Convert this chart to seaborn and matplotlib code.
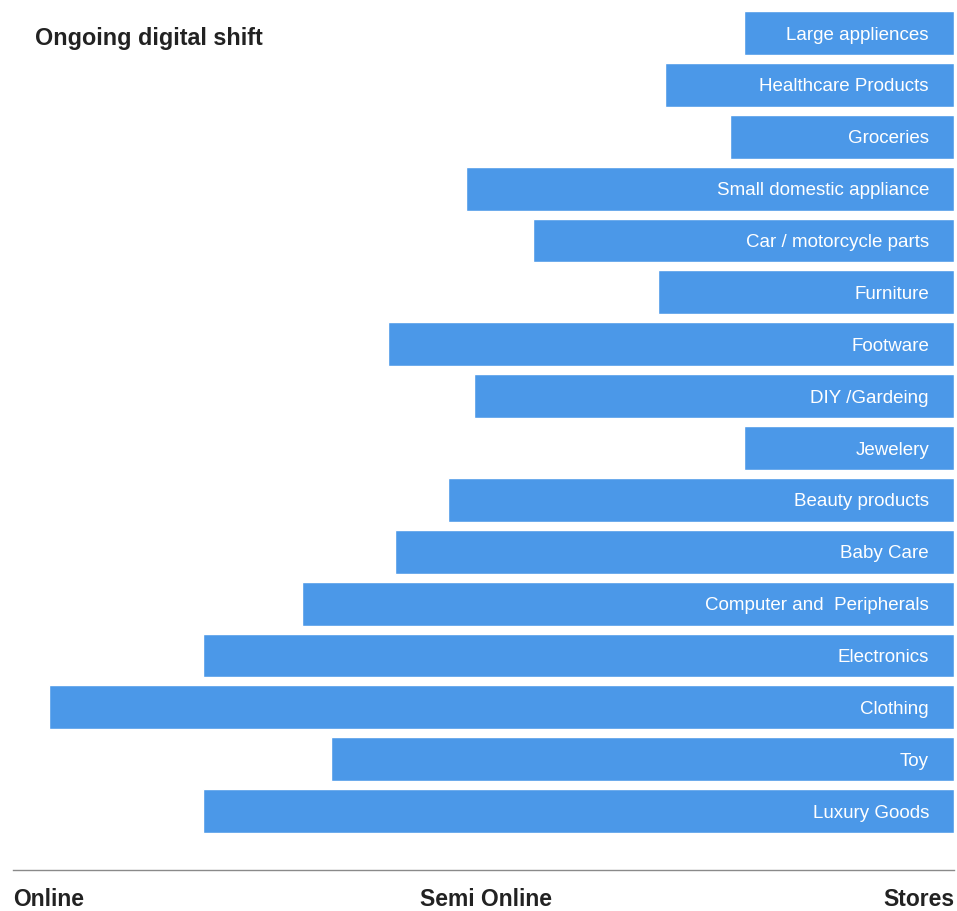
import matplotlib
matplotlib.use("Agg")
import matplotlib.pyplot as plt
import pandas as pd
import seaborn as sns

categories = [
    "Large appliences", "Healthcare Products", "Groceries",
    "Small domestic appliance", "Car / motorcycle parts", "Furniture",
    "Footware", "DIY /Gardeing", "Jewelery", "Beauty products",
    "Baby Care", "Computer and  Peripherals", "Electronics", "Clothing",
    "Toy", "Luxury Goods",
]
# digital extent: 0 = stores only, 100 = fully online
digital_shift = [22.3, 30.7, 23.8, 51.9, 44.7, 31.5, 60.1, 51.0,
                 22.3, 53.8, 59.4, 69.3, 79.8, 96.2, 66.2, 79.8]
axis_labels = ["Online", "Semi Online", "Stores"]

bar_color = "#4b98e8"

sns.set_theme(style="white")
plt.rcParams["font.family"] = ["Liberation Sans", "DejaVu Sans"]

df = pd.DataFrame({"category": categories, "value": digital_shift})

W, H = 957, 911
fig = plt.figure(figsize=(W / 100, H / 100), dpi=100)
ax = fig.add_axes([13 / W, 41 / H, 941 / W, 870 / H])

sns.barplot(data=df, x="value", y="category", orient="h", color=bar_color,
            saturation=1, width=0.846, ax=ax)

ax.set_xlim(100, 0)
ax.set_ylim(len(categories) - 1 + 1.135, -0.635)

for i, cat in enumerate(categories):
    ax.text(2.66, i + 0.04, cat, color="white", ha="right", va="center",
            fontsize=13.5)

for s in ["top", "left", "right"]:
    ax.spines[s].set_visible(False)
ax.spines["bottom"].set_color("#8a8a8a")
ax.spines["bottom"].set_linewidth(1)
ax.set_xticks([])
ax.set_yticks([])
ax.set_xlabel("")
ax.set_ylabel("")

label_y = 1 - 899 / H
fig.text(13 / W, label_y, axis_labels[0], ha="left", va="center",
         fontsize=16.5, fontweight="bold", color="#222222")
fig.text(486 / W, label_y, axis_labels[1], ha="center", va="center",
         fontsize=16.5, fontweight="bold", color="#222222")
fig.text(954 / W, label_y, axis_labels[2], ha="right", va="center",
         fontsize=16.5, fontweight="bold", color="#222222")

fig.text(35 / W, 1 - 38 / H, "Ongoing digital shift", ha="left", va="center",
         fontsize=16.8, fontweight="bold", color="#222222")

fig.savefig("out.png", dpi=100)
